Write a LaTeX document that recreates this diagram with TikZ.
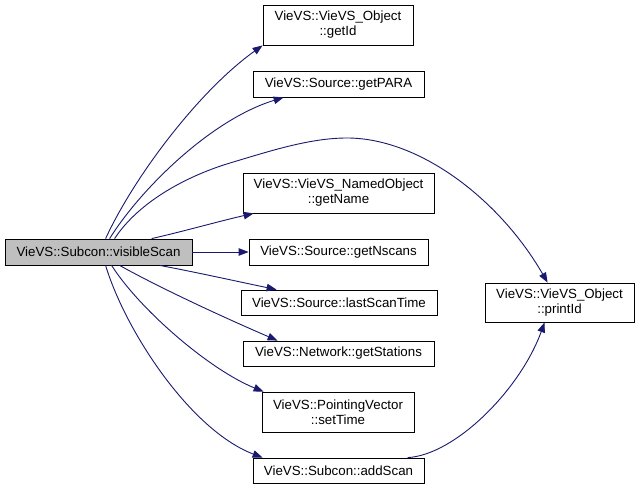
\documentclass[tikz,border=0pt]{standalone}
\usepackage{fontspec}
\setmainfont{Liberation Sans}
\usetikzlibrary{arrows.meta}
\definecolor{edgeblue}{HTML}{191970}
\definecolor{hlgray}{HTML}{BFBFBF}
\tikzset{
  fn/.style={draw=black, line width=0.8pt, fill=white, inner sep=0pt, align=center,
    font=\fontsize{13.3}{15}\selectfont},
  call/.style={draw=edgeblue, line width=0.9pt, -{Triangle[length=10pt,width=7.5pt]}, edgeblue}
}
\begin{document}
\begin{tikzpicture}[x=1pt,y=-1pt]
\useasboundingbox[fill=white] (0,0) rectangle (640,489);
\node[fn, fill=hlgray, minimum width=187pt, minimum height=26pt] (vs) at (98.5,252) {VieVS::Subcon::visibleScan};
\node[fn, minimum width=150pt, minimum height=40pt] (getId) at (338,25) {VieVS::VieVS\_Object\\::getId};
\node[fn, minimum width=171pt, minimum height=26pt] (getPARA) at (338.5,84) {VieVS::Source::getPARA};
\node[fn, minimum width=191pt, minimum height=40pt] (getName) at (338.5,193) {VieVS::VieVS\_NamedObject\\::getName};
\node[fn, minimum width=179pt, minimum height=26pt] (getNscans) at (338.5,252) {VieVS::Source::getNscans};
\node[fn, minimum width=196pt, minimum height=25pt] (lastScan) at (339,302.5) {VieVS::Source::lastScanTime};
\node[fn, minimum width=191pt, minimum height=25pt] (getStations) at (338.5,353.5) {VieVS::Network::getStations};
\node[fn, minimum width=152pt, minimum height=40pt] (setTime) at (338,412) {VieVS::PointingVector\\::setTime};
\node[fn, minimum width=171pt, minimum height=25pt] (addScan) at (338.5,470.5) {VieVS::Subcon::addScan};
\node[fn, minimum width=149pt, minimum height=39pt] (printId) at (559.5,302.5) {VieVS::VieVS\_Object\\::printId};

% edges
\draw[call] ([xshift=101pt]vs.north west) .. controls (135,175) and (200,90) .. (getId.south west);
\draw[call] ([xshift=105pt]vs.north west) .. controls (140,190) and (210,120) .. ([xshift=31pt]getPARA.south west);
\draw[call] ([xshift=110pt]vs.north west) .. controls (140,200) and (190,175) .. (230,163)
   .. controls (270,151) and (310,138) .. (347,138)
   .. controls (420,138) and (500,200) .. ([xshift=63pt]printId.north west);
\draw[call] ([xshift=147pt]vs.north west) .. controls (185,231) and (220,221) .. ([xshift=11pt]getName.south west);
\draw[call] (vs.east) -- (getNscans.west);
\draw[call] ([xshift=155pt]vs.south west) .. controls (195,272) and (240,282) .. ([xshift=36pt]lastScan.north west);
\draw[call] ([xshift=115pt]vs.south west) .. controls (160,288) and (225,318) .. ([xshift=35pt]getStations.north west);
\draw[call] ([xshift=107pt]vs.south west) .. controls (140,310) and (210,370) .. ([xshift=2pt]setTime.north west);
\draw[call] ([xshift=101pt]vs.south west) .. controls (125,330) and (190,430) .. ([xshift=10pt]addScan.north west);
\draw[call] ([xshift=155pt]addScan.north west) .. controls (455,455) and (520,390) .. ([xshift=60pt]printId.south west);
\end{tikzpicture}
\end{document}
